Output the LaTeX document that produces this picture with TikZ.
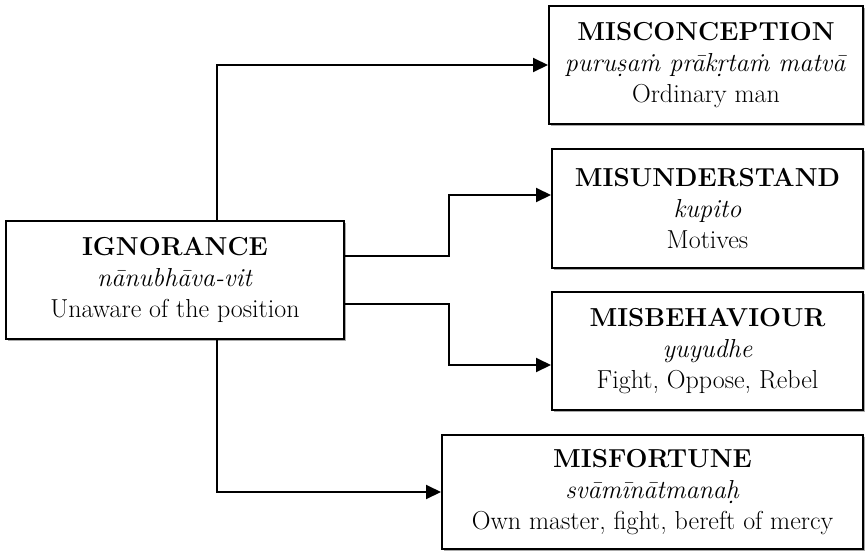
\documentclass[tikz,border=0pt]{standalone}
\usepackage{xcolor}
\definecolor{mdark}{RGB}{0, 0, 0}
\definecolor{mshadow}{RGB}{170, 170, 170}
\usepackage{tikz}
\usetikzlibrary{shapes, arrows.meta, positioning, shadows}
% m with dot above, built with \accent
\newcommand{\mdot}{\accent"02D9 m}

\begin{document}
\begin{tikzpicture}[
        x=1pt, y=-1pt,
        font=\fontsize{26}{31}\selectfont,
        block/.style={
            rectangle,
            draw=mdark,
            line width=2pt,
            fill=white,
            align=center,
            inner sep=0pt,
            drop shadow={shadow xshift=2pt, shadow yshift=-2pt, fill=mshadow, opacity=1}
        },
        arrow/.style={
            -{Triangle[length=15pt, width=14pt]},
            line width=2pt,
            color=mdark
        }
    ]
        \useasboundingbox (0,0) rectangle (865,552);

        % Nodes
        \node[block, minimum width=338pt, minimum height=118pt] (ign) at (175,280)
            {\textbf{IGNORANCE}\\ \textit{nānubhāva-vit}\\ Unaware of the position};
        \node[block, minimum width=314pt, minimum height=118pt] (conc) at (706,65)
            {\textbf{MISCONCEPTION}\\ \textit{puruṣa\mdot{} prākṛta\mdot{} matvā}\\ Ordinary man};
        \node[block, minimum width=311pt, minimum height=119pt] (und) at (707.5,208.5)
            {\textbf{MISUNDERSTAND}\\ \textit{kupito}\\ Motives};
        \node[block, minimum width=311pt, minimum height=118pt] (beh) at (707.5,351)
            {\textbf{MISBEHAVIOUR}\\ \textit{yuyudhe}\\ Fight, Oppose, Rebel};
        \node[block, minimum width=421pt, minimum height=114pt] (fort) at (652.5,492)
            {\textbf{MISFORTUNE}\\ \textit{svāmīnātmanaḥ}\\ Own master, fight, bereft of mercy};

        % Arrows
        \coordinate (trunk) at (217,0);
        \draw[arrow] (ign.north -| trunk) |- (conc.west);
        \draw[arrow] ([yshift=24pt]ign.east) -- ++(104,0) |- ([yshift=13.5pt]und.west);
        \draw[arrow] ([yshift=-24pt]ign.east) -- ++(104,0) |- ([yshift=-14pt]beh.west);
        \draw[arrow] (ign.south -| trunk) |- (fort.west);
    \end{tikzpicture}
\end{document}
